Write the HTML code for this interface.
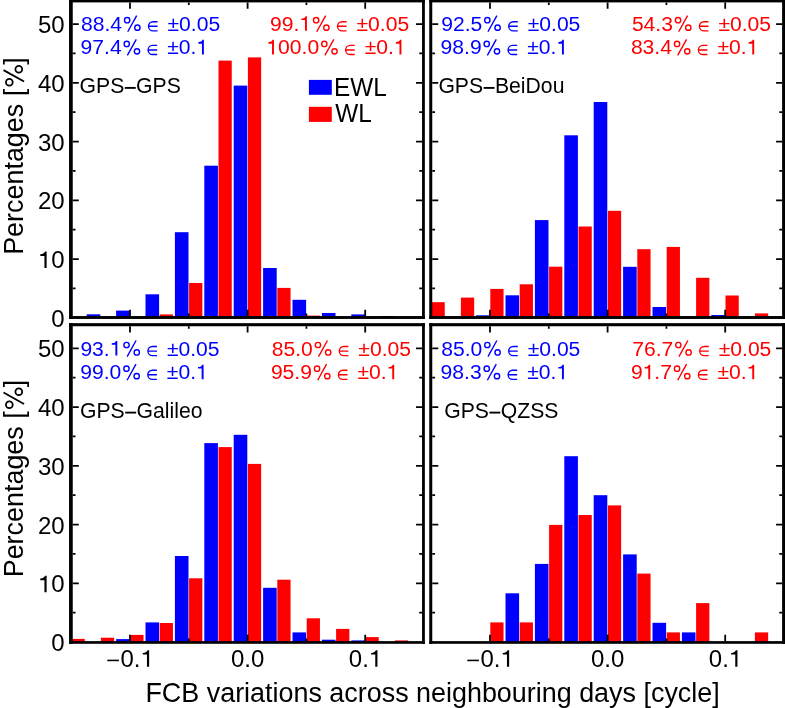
<!DOCTYPE html>
<html><head><meta charset="utf-8"><title>FCB variations</title><style>html,body{margin:0;padding:0;background:#fff;}svg{display:block;will-change:transform;}text{font-family:"Liberation Sans",sans-serif;white-space:pre;}</style></head><body>
<svg width="785" height="708" viewBox="0 0 785 708" font-family="Liberation Sans, sans-serif">
<rect width="785" height="708" fill="#fff"/>
<rect x="86.70" y="314.30" width="13.60" height="3.20" fill="#0000ff"/>
<rect x="116.10" y="310.60" width="13.60" height="6.90" fill="#0000ff"/>
<rect x="145.50" y="294.30" width="13.60" height="23.20" fill="#0000ff"/>
<rect x="159.70" y="314.40" width="13.25" height="3.10" fill="#ff0000"/>
<rect x="174.90" y="232.20" width="13.60" height="85.30" fill="#0000ff"/>
<rect x="189.10" y="283.00" width="13.25" height="34.50" fill="#ff0000"/>
<rect x="204.30" y="165.70" width="13.60" height="151.80" fill="#0000ff"/>
<rect x="218.50" y="60.60" width="13.25" height="256.90" fill="#ff0000"/>
<rect x="233.70" y="85.60" width="13.60" height="231.90" fill="#0000ff"/>
<rect x="247.90" y="57.40" width="13.25" height="260.10" fill="#ff0000"/>
<rect x="263.10" y="268.00" width="13.60" height="49.50" fill="#0000ff"/>
<rect x="277.30" y="287.90" width="13.25" height="29.60" fill="#ff0000"/>
<rect x="292.50" y="299.80" width="13.60" height="17.70" fill="#0000ff"/>
<rect x="306.70" y="315.60" width="13.25" height="1.90" fill="#ff0000"/>
<rect x="321.90" y="313.00" width="13.60" height="4.50" fill="#0000ff"/>
<rect x="351.30" y="314.40" width="13.60" height="3.10" fill="#0000ff"/>
<rect x="380.70" y="316.00" width="13.60" height="1.50" fill="#0000ff"/>
<path d="M72.75 288.47h2.8M422.05 288.47h-2.8M72.75 259.09h6.0M422.05 259.09h-6.0M72.75 229.71h2.8M422.05 229.71h-2.8M72.75 200.33h6.0M422.05 200.33h-6.0M72.75 170.95h2.8M422.05 170.95h-2.8M72.75 141.57h6.0M422.05 141.57h-6.0M72.75 112.19h2.8M422.05 112.19h-2.8M72.75 82.81h6.0M422.05 82.81h-6.0M72.75 53.43h2.8M422.05 53.43h-2.8M72.75 24.05h6.0M422.05 24.05h-6.0M130.00 2.40v6.3M130.00 316.05v-6.3M188.80 2.40v2.6M188.80 316.05v-2.6M247.60 2.40v6.3M247.60 316.05v-6.3M306.40 2.40v2.6M306.40 316.05v-2.6M365.20 2.40v6.3M365.20 316.05v-6.3" stroke="#000" stroke-width="1.8" fill="none"/>
<rect x="69.05" y="-1.30" width="3.70" height="320.25" fill="#000"/>
<rect x="422.05" y="-1.30" width="2.80" height="320.25" fill="#000"/>
<rect x="69.05" y="-1.30" width="355.80" height="3.70" fill="#000"/>
<rect x="69.05" y="316.05" width="355.80" height="2.90" fill="#000"/>
<rect x="431.50" y="302.20" width="13.25" height="15.30" fill="#ff0000"/>
<rect x="460.90" y="297.60" width="13.25" height="19.90" fill="#ff0000"/>
<rect x="476.10" y="315.30" width="13.60" height="2.20" fill="#0000ff"/>
<rect x="490.30" y="288.90" width="13.25" height="28.60" fill="#ff0000"/>
<rect x="505.50" y="295.30" width="13.60" height="22.20" fill="#0000ff"/>
<rect x="519.70" y="284.30" width="13.25" height="33.20" fill="#ff0000"/>
<rect x="534.90" y="220.10" width="13.60" height="97.40" fill="#0000ff"/>
<rect x="549.10" y="266.70" width="13.25" height="50.80" fill="#ff0000"/>
<rect x="564.30" y="135.30" width="13.60" height="182.20" fill="#0000ff"/>
<rect x="578.50" y="226.50" width="13.25" height="91.00" fill="#ff0000"/>
<rect x="593.70" y="102.00" width="13.60" height="215.50" fill="#0000ff"/>
<rect x="607.90" y="210.80" width="13.25" height="106.70" fill="#ff0000"/>
<rect x="623.10" y="266.80" width="13.60" height="50.70" fill="#0000ff"/>
<rect x="637.30" y="249.20" width="13.25" height="68.30" fill="#ff0000"/>
<rect x="652.50" y="307.00" width="13.60" height="10.50" fill="#0000ff"/>
<rect x="666.70" y="246.90" width="13.25" height="70.60" fill="#ff0000"/>
<rect x="696.10" y="277.80" width="13.25" height="39.70" fill="#ff0000"/>
<rect x="711.30" y="315.00" width="13.60" height="2.50" fill="#0000ff"/>
<rect x="725.50" y="295.50" width="13.25" height="22.00" fill="#ff0000"/>
<rect x="754.90" y="313.40" width="13.25" height="4.10" fill="#ff0000"/>
<path d="M432.25 288.47h2.8M782.10 288.47h-2.8M432.25 259.09h6.0M782.10 259.09h-6.0M432.25 229.71h2.8M782.10 229.71h-2.8M432.25 200.33h6.0M782.10 200.33h-6.0M432.25 170.95h2.8M782.10 170.95h-2.8M432.25 141.57h6.0M782.10 141.57h-6.0M432.25 112.19h2.8M782.10 112.19h-2.8M432.25 82.81h6.0M782.10 82.81h-6.0M432.25 53.43h2.8M782.10 53.43h-2.8M432.25 24.05h6.0M782.10 24.05h-6.0M490.00 2.40v6.3M490.00 316.05v-6.3M548.80 2.40v2.6M548.80 316.05v-2.6M607.60 2.40v6.3M607.60 316.05v-6.3M666.40 2.40v2.6M666.40 316.05v-2.6M725.20 2.40v6.3M725.20 316.05v-6.3" stroke="#000" stroke-width="1.8" fill="none"/>
<rect x="429.25" y="-1.30" width="3.00" height="320.25" fill="#000"/>
<rect x="782.10" y="-1.30" width="3.00" height="320.25" fill="#000"/>
<rect x="429.25" y="-1.30" width="355.85" height="3.70" fill="#000"/>
<rect x="429.25" y="316.05" width="355.85" height="2.90" fill="#000"/>
<rect x="71.50" y="638.90" width="13.25" height="3.55" fill="#ff0000"/>
<rect x="100.90" y="637.70" width="13.25" height="4.75" fill="#ff0000"/>
<rect x="116.10" y="639.10" width="13.60" height="3.35" fill="#0000ff"/>
<rect x="130.30" y="634.90" width="13.25" height="7.55" fill="#ff0000"/>
<rect x="145.50" y="622.40" width="13.60" height="20.05" fill="#0000ff"/>
<rect x="159.70" y="623.00" width="13.25" height="19.45" fill="#ff0000"/>
<rect x="174.90" y="556.00" width="13.60" height="86.45" fill="#0000ff"/>
<rect x="189.10" y="578.30" width="13.25" height="64.15" fill="#ff0000"/>
<rect x="204.30" y="443.10" width="13.60" height="199.35" fill="#0000ff"/>
<rect x="218.50" y="447.10" width="13.25" height="195.35" fill="#ff0000"/>
<rect x="233.70" y="434.80" width="13.60" height="207.65" fill="#0000ff"/>
<rect x="247.90" y="463.90" width="13.25" height="178.55" fill="#ff0000"/>
<rect x="263.10" y="587.80" width="13.60" height="54.65" fill="#0000ff"/>
<rect x="277.30" y="579.70" width="13.25" height="62.75" fill="#ff0000"/>
<rect x="292.50" y="632.40" width="13.60" height="10.05" fill="#0000ff"/>
<rect x="306.70" y="618.30" width="13.25" height="24.15" fill="#ff0000"/>
<rect x="321.90" y="639.70" width="13.60" height="2.75" fill="#0000ff"/>
<rect x="336.10" y="628.90" width="13.25" height="13.55" fill="#ff0000"/>
<rect x="351.30" y="640.40" width="13.60" height="2.05" fill="#0000ff"/>
<rect x="365.50" y="637.10" width="13.25" height="5.35" fill="#ff0000"/>
<rect x="394.90" y="640.40" width="13.25" height="2.05" fill="#ff0000"/>
<path d="M72.75 612.72h2.8M422.05 612.72h-2.8M72.75 583.34h6.0M422.05 583.34h-6.0M72.75 553.96h2.8M422.05 553.96h-2.8M72.75 524.58h6.0M422.05 524.58h-6.0M72.75 495.20h2.8M422.05 495.20h-2.8M72.75 465.82h6.0M422.05 465.82h-6.0M72.75 436.44h2.8M422.05 436.44h-2.8M72.75 407.06h6.0M422.05 407.06h-6.0M72.75 377.68h2.8M422.05 377.68h-2.8M72.75 348.30h6.0M422.05 348.30h-6.0M130.00 326.25v6.3M130.00 641.10v-6.3M188.80 326.25v2.6M188.80 641.10v-2.6M247.60 326.25v6.3M247.60 641.10v-6.3M306.40 326.25v2.6M306.40 641.10v-2.6M365.20 326.25v6.3M365.20 641.10v-6.3" stroke="#000" stroke-width="1.8" fill="none"/>
<rect x="69.05" y="323.15" width="3.70" height="320.65" fill="#000"/>
<rect x="422.05" y="323.15" width="2.80" height="320.65" fill="#000"/>
<rect x="69.05" y="323.15" width="355.80" height="3.10" fill="#000"/>
<rect x="69.05" y="641.10" width="355.80" height="2.70" fill="#000"/>
<rect x="490.30" y="622.40" width="13.25" height="20.05" fill="#ff0000"/>
<rect x="505.50" y="593.30" width="13.60" height="49.15" fill="#0000ff"/>
<rect x="519.70" y="622.40" width="13.25" height="20.05" fill="#ff0000"/>
<rect x="534.90" y="563.90" width="13.60" height="78.55" fill="#0000ff"/>
<rect x="549.10" y="524.90" width="13.25" height="117.55" fill="#ff0000"/>
<rect x="564.30" y="456.20" width="13.60" height="186.25" fill="#0000ff"/>
<rect x="578.50" y="515.00" width="13.25" height="127.45" fill="#ff0000"/>
<rect x="593.70" y="495.20" width="13.60" height="147.25" fill="#0000ff"/>
<rect x="607.90" y="505.40" width="13.25" height="137.05" fill="#ff0000"/>
<rect x="623.10" y="554.40" width="13.60" height="88.05" fill="#0000ff"/>
<rect x="637.30" y="573.60" width="13.25" height="68.85" fill="#ff0000"/>
<rect x="652.50" y="622.80" width="13.60" height="19.65" fill="#0000ff"/>
<rect x="666.70" y="632.40" width="13.25" height="10.05" fill="#ff0000"/>
<rect x="681.90" y="632.40" width="13.60" height="10.05" fill="#0000ff"/>
<rect x="696.10" y="603.10" width="13.25" height="39.35" fill="#ff0000"/>
<rect x="754.90" y="632.40" width="13.25" height="10.05" fill="#ff0000"/>
<path d="M432.25 612.72h2.8M782.10 612.72h-2.8M432.25 583.34h6.0M782.10 583.34h-6.0M432.25 553.96h2.8M782.10 553.96h-2.8M432.25 524.58h6.0M782.10 524.58h-6.0M432.25 495.20h2.8M782.10 495.20h-2.8M432.25 465.82h6.0M782.10 465.82h-6.0M432.25 436.44h2.8M782.10 436.44h-2.8M432.25 407.06h6.0M782.10 407.06h-6.0M432.25 377.68h2.8M782.10 377.68h-2.8M432.25 348.30h6.0M782.10 348.30h-6.0M490.00 326.25v6.3M490.00 641.10v-6.3M548.80 326.25v2.6M548.80 641.10v-2.6M607.60 326.25v6.3M607.60 641.10v-6.3M666.40 326.25v2.6M666.40 641.10v-2.6M725.20 326.25v6.3M725.20 641.10v-6.3" stroke="#000" stroke-width="1.8" fill="none"/>
<rect x="429.25" y="323.15" width="3.00" height="320.65" fill="#000"/>
<rect x="782.10" y="323.15" width="3.00" height="320.65" fill="#000"/>
<rect x="429.25" y="323.15" width="355.85" height="3.10" fill="#000"/>
<rect x="429.25" y="641.10" width="355.85" height="2.70" fill="#000"/>
<text x="81.00" y="30.70" font-size="21.1" fill="#0000ff">88.4</text>
<path d="M136.67 15.68L127.76 31.75" stroke="#0000ff" stroke-width="1.39" fill="none"/><circle cx="127.15" cy="20.21" r="2.66" stroke="#0000ff" stroke-width="1.39" fill="none"/><circle cx="137.39" cy="27.64" r="2.66" stroke="#0000ff" stroke-width="1.39" fill="none"/>
<path d="M157.58 21.70H153.03A4.55 4.55 0 0 0 153.03 30.80H157.58M148.48 26.25H157.58" stroke="#0000ff" stroke-width="1.35" fill="none"/>
<text x="167.53" y="30.70" font-size="21.1" fill="#0000ff">±0.05</text>
<text x="80.60" y="54.40" font-size="21.1" fill="#0000ff">97.4</text>
<path d="M136.27 39.38L127.36 55.45" stroke="#0000ff" stroke-width="1.39" fill="none"/><circle cx="126.75" cy="43.91" r="2.66" stroke="#0000ff" stroke-width="1.39" fill="none"/><circle cx="136.99" cy="51.34" r="2.66" stroke="#0000ff" stroke-width="1.39" fill="none"/>
<path d="M157.18 45.40H152.63A4.55 4.55 0 0 0 152.63 54.50H157.18M148.08 49.95H157.18" stroke="#0000ff" stroke-width="1.35" fill="none"/>
<text x="167.13" y="54.40" font-size="21.1" fill="#0000ff">±0. </text>
<path d="M201.96 54.40L203.88 54.40L203.88 39.84L202.46 39.84C202.04 41.21 200.84 42.06 198.31 42.20L198.31 43.68L201.96 43.68Z" fill="#0000ff"/>
<text x="270.00" y="30.70" font-size="21.1" fill="#ff0000">99. </text>
<path d="M304.99 30.70L306.91 30.70L306.91 16.14L305.49 16.14C305.07 17.51 303.87 18.36 301.34 18.50L301.34 19.98L304.99 19.98Z" fill="#ff0000"/>
<path d="M325.67 15.68L316.76 31.75" stroke="#ff0000" stroke-width="1.39" fill="none"/><circle cx="316.15" cy="20.21" r="2.66" stroke="#ff0000" stroke-width="1.39" fill="none"/><circle cx="326.39" cy="27.64" r="2.66" stroke="#ff0000" stroke-width="1.39" fill="none"/>
<path d="M346.58 21.70H342.03A4.55 4.55 0 0 0 342.03 30.80H346.58M337.48 26.25H346.58" stroke="#ff0000" stroke-width="1.35" fill="none"/>
<text x="356.53" y="30.70" font-size="21.1" fill="#ff0000">±0.05</text>
<text x="266.40" y="54.40" font-size="21.1" fill="#ff0000"> 00.0</text>
<path d="M272.05 54.40L273.97 54.40L273.97 39.84L272.56 39.84C272.14 41.21 270.94 42.06 268.40 42.20L268.40 43.68L272.05 43.68Z" fill="#ff0000"/>
<path d="M333.80 39.38L324.90 55.45" stroke="#ff0000" stroke-width="1.39" fill="none"/><circle cx="324.29" cy="43.91" r="2.66" stroke="#ff0000" stroke-width="1.39" fill="none"/><circle cx="334.52" cy="51.34" r="2.66" stroke="#ff0000" stroke-width="1.39" fill="none"/>
<path d="M354.71 45.40H350.16A4.55 4.55 0 0 0 350.16 54.50H354.71M345.61 49.95H354.71" stroke="#ff0000" stroke-width="1.35" fill="none"/>
<text x="364.66" y="54.40" font-size="21.1" fill="#ff0000">±0. </text>
<path d="M399.49 54.40L401.41 54.40L401.41 39.84L400.00 39.84C399.58 41.21 398.37 42.06 395.84 42.20L395.84 43.68L399.49 43.68Z" fill="#ff0000"/>
<text x="79.60" y="93.20" font-size="21.2">GPS GPS</text>
<rect x="124.81" y="86.97" width="10.92" height="1.87" fill="#000"/>
<text x="441.20" y="30.70" font-size="21.1" fill="#0000ff">92.5</text>
<path d="M496.87 15.68L487.96 31.75" stroke="#0000ff" stroke-width="1.39" fill="none"/><circle cx="487.35" cy="20.21" r="2.66" stroke="#0000ff" stroke-width="1.39" fill="none"/><circle cx="497.59" cy="27.64" r="2.66" stroke="#0000ff" stroke-width="1.39" fill="none"/>
<path d="M517.78 21.70H513.23A4.55 4.55 0 0 0 513.23 30.80H517.78M508.68 26.25H517.78" stroke="#0000ff" stroke-width="1.35" fill="none"/>
<text x="527.73" y="30.70" font-size="21.1" fill="#0000ff">±0.05</text>
<text x="440.60" y="54.40" font-size="21.1" fill="#0000ff">98.9</text>
<path d="M496.27 39.38L487.36 55.45" stroke="#0000ff" stroke-width="1.39" fill="none"/><circle cx="486.75" cy="43.91" r="2.66" stroke="#0000ff" stroke-width="1.39" fill="none"/><circle cx="496.99" cy="51.34" r="2.66" stroke="#0000ff" stroke-width="1.39" fill="none"/>
<path d="M517.18 45.40H512.63A4.55 4.55 0 0 0 512.63 54.50H517.18M508.08 49.95H517.18" stroke="#0000ff" stroke-width="1.35" fill="none"/>
<text x="527.13" y="54.40" font-size="21.1" fill="#0000ff">±0. </text>
<path d="M561.96 54.40L563.88 54.40L563.88 39.84L562.46 39.84C562.04 41.21 560.84 42.06 558.31 42.20L558.31 43.68L561.96 43.68Z" fill="#0000ff"/>
<text x="631.90" y="30.70" font-size="21.1" fill="#ff0000">54.3</text>
<path d="M687.57 15.68L678.66 31.75" stroke="#ff0000" stroke-width="1.39" fill="none"/><circle cx="678.05" cy="20.21" r="2.66" stroke="#ff0000" stroke-width="1.39" fill="none"/><circle cx="688.29" cy="27.64" r="2.66" stroke="#ff0000" stroke-width="1.39" fill="none"/>
<path d="M708.48 21.70H703.93A4.55 4.55 0 0 0 703.93 30.80H708.48M699.38 26.25H708.48" stroke="#ff0000" stroke-width="1.35" fill="none"/>
<text x="718.43" y="30.70" font-size="21.1" fill="#ff0000">±0.05</text>
<text x="630.90" y="54.40" font-size="21.1" fill="#ff0000">83.4</text>
<path d="M686.57 39.38L677.66 55.45" stroke="#ff0000" stroke-width="1.39" fill="none"/><circle cx="677.05" cy="43.91" r="2.66" stroke="#ff0000" stroke-width="1.39" fill="none"/><circle cx="687.29" cy="51.34" r="2.66" stroke="#ff0000" stroke-width="1.39" fill="none"/>
<path d="M707.48 45.40H702.93A4.55 4.55 0 0 0 702.93 54.50H707.48M698.38 49.95H707.48" stroke="#ff0000" stroke-width="1.35" fill="none"/>
<text x="717.43" y="54.40" font-size="21.1" fill="#ff0000">±0. </text>
<path d="M752.26 54.40L754.18 54.40L754.18 39.84L752.76 39.84C752.34 41.21 751.14 42.06 748.61 42.20L748.61 43.68L752.26 43.68Z" fill="#ff0000"/>
<text x="438.40" y="93.20" font-size="21.2">GPS BeiDou</text>
<rect x="483.61" y="86.97" width="10.92" height="1.87" fill="#000"/>
<text x="80.40" y="355.50" font-size="21.1" fill="#0000ff">93. </text>
<path d="M115.39 355.50L117.31 355.50L117.31 340.94L115.89 340.94C115.47 342.31 114.27 343.16 111.74 343.30L111.74 344.78L115.39 344.78Z" fill="#0000ff"/>
<path d="M136.07 340.48L127.16 356.56" stroke="#0000ff" stroke-width="1.39" fill="none"/><circle cx="126.55" cy="345.01" r="2.66" stroke="#0000ff" stroke-width="1.39" fill="none"/><circle cx="136.79" cy="352.44" r="2.66" stroke="#0000ff" stroke-width="1.39" fill="none"/>
<path d="M156.98 346.50H152.43A4.55 4.55 0 0 0 152.43 355.60H156.98M147.88 351.05H156.98" stroke="#0000ff" stroke-width="1.35" fill="none"/>
<text x="166.93" y="355.50" font-size="21.1" fill="#0000ff">±0.05</text>
<text x="80.30" y="379.20" font-size="21.1" fill="#0000ff">99.0</text>
<path d="M135.97 364.18L127.06 380.25" stroke="#0000ff" stroke-width="1.39" fill="none"/><circle cx="126.45" cy="368.71" r="2.66" stroke="#0000ff" stroke-width="1.39" fill="none"/><circle cx="136.69" cy="376.14" r="2.66" stroke="#0000ff" stroke-width="1.39" fill="none"/>
<path d="M156.88 370.20H152.33A4.55 4.55 0 0 0 152.33 379.30H156.88M147.78 374.75H156.88" stroke="#0000ff" stroke-width="1.35" fill="none"/>
<text x="166.83" y="379.20" font-size="21.1" fill="#0000ff">±0. </text>
<path d="M201.66 379.20L203.58 379.20L203.58 364.64L202.16 364.64C201.74 366.01 200.54 366.86 198.01 367.00L198.01 368.48L201.66 368.48Z" fill="#0000ff"/>
<text x="271.80" y="355.50" font-size="21.1" fill="#ff0000">85.0</text>
<path d="M327.47 340.48L318.56 356.56" stroke="#ff0000" stroke-width="1.39" fill="none"/><circle cx="317.95" cy="345.01" r="2.66" stroke="#ff0000" stroke-width="1.39" fill="none"/><circle cx="328.19" cy="352.44" r="2.66" stroke="#ff0000" stroke-width="1.39" fill="none"/>
<path d="M348.38 346.50H343.83A4.55 4.55 0 0 0 343.83 355.60H348.38M339.28 351.05H348.38" stroke="#ff0000" stroke-width="1.35" fill="none"/>
<text x="358.33" y="355.50" font-size="21.1" fill="#ff0000">±0.05</text>
<text x="270.90" y="379.20" font-size="21.1" fill="#ff0000">95.9</text>
<path d="M326.57 364.18L317.66 380.25" stroke="#ff0000" stroke-width="1.39" fill="none"/><circle cx="317.05" cy="368.71" r="2.66" stroke="#ff0000" stroke-width="1.39" fill="none"/><circle cx="327.29" cy="376.14" r="2.66" stroke="#ff0000" stroke-width="1.39" fill="none"/>
<path d="M347.48 370.20H342.93A4.55 4.55 0 0 0 342.93 379.30H347.48M338.38 374.75H347.48" stroke="#ff0000" stroke-width="1.35" fill="none"/>
<text x="357.43" y="379.20" font-size="21.1" fill="#ff0000">±0. </text>
<path d="M392.26 379.20L394.18 379.20L394.18 364.64L392.76 364.64C392.34 366.01 391.14 366.86 388.61 367.00L388.61 368.48L392.26 368.48Z" fill="#ff0000"/>
<text x="80.00" y="417.90" font-size="21.2">GPS Galileo</text>
<rect x="125.21" y="411.67" width="10.92" height="1.87" fill="#000"/>
<text x="441.20" y="355.50" font-size="21.1" fill="#0000ff">85.0</text>
<path d="M496.87 340.48L487.96 356.56" stroke="#0000ff" stroke-width="1.39" fill="none"/><circle cx="487.35" cy="345.01" r="2.66" stroke="#0000ff" stroke-width="1.39" fill="none"/><circle cx="497.59" cy="352.44" r="2.66" stroke="#0000ff" stroke-width="1.39" fill="none"/>
<path d="M517.78 346.50H513.23A4.55 4.55 0 0 0 513.23 355.60H517.78M508.68 351.05H517.78" stroke="#0000ff" stroke-width="1.35" fill="none"/>
<text x="527.73" y="355.50" font-size="21.1" fill="#0000ff">±0.05</text>
<text x="440.60" y="379.20" font-size="21.1" fill="#0000ff">98.3</text>
<path d="M496.27 364.18L487.36 380.25" stroke="#0000ff" stroke-width="1.39" fill="none"/><circle cx="486.75" cy="368.71" r="2.66" stroke="#0000ff" stroke-width="1.39" fill="none"/><circle cx="496.99" cy="376.14" r="2.66" stroke="#0000ff" stroke-width="1.39" fill="none"/>
<path d="M517.18 370.20H512.63A4.55 4.55 0 0 0 512.63 379.30H517.18M508.08 374.75H517.18" stroke="#0000ff" stroke-width="1.35" fill="none"/>
<text x="527.13" y="379.20" font-size="21.1" fill="#0000ff">±0. </text>
<path d="M561.96 379.20L563.88 379.20L563.88 364.64L562.46 364.64C562.04 366.01 560.84 366.86 558.31 367.00L558.31 368.48L561.96 368.48Z" fill="#0000ff"/>
<text x="632.20" y="355.50" font-size="21.1" fill="#ff0000">76.7</text>
<path d="M687.87 340.48L678.96 356.56" stroke="#ff0000" stroke-width="1.39" fill="none"/><circle cx="678.35" cy="345.01" r="2.66" stroke="#ff0000" stroke-width="1.39" fill="none"/><circle cx="688.59" cy="352.44" r="2.66" stroke="#ff0000" stroke-width="1.39" fill="none"/>
<path d="M708.78 346.50H704.23A4.55 4.55 0 0 0 704.23 355.60H708.78M699.68 351.05H708.78" stroke="#ff0000" stroke-width="1.35" fill="none"/>
<text x="718.73" y="355.50" font-size="21.1" fill="#ff0000">±0.05</text>
<text x="630.90" y="379.20" font-size="21.1" fill="#ff0000">9 .7</text>
<path d="M648.29 379.20L650.21 379.20L650.21 364.64L648.80 364.64C648.37 366.01 647.17 366.86 644.64 367.00L644.64 368.48L648.29 368.48Z" fill="#ff0000"/>
<path d="M686.57 364.18L677.66 380.25" stroke="#ff0000" stroke-width="1.39" fill="none"/><circle cx="677.05" cy="368.71" r="2.66" stroke="#ff0000" stroke-width="1.39" fill="none"/><circle cx="687.29" cy="376.14" r="2.66" stroke="#ff0000" stroke-width="1.39" fill="none"/>
<path d="M707.48 370.20H702.93A4.55 4.55 0 0 0 702.93 379.30H707.48M698.38 374.75H707.48" stroke="#ff0000" stroke-width="1.35" fill="none"/>
<text x="717.43" y="379.20" font-size="21.1" fill="#ff0000">±0. </text>
<path d="M752.26 379.20L754.18 379.20L754.18 364.64L752.76 364.64C752.34 366.01 751.14 366.86 748.61 367.00L748.61 368.48L752.26 368.48Z" fill="#ff0000"/>
<text x="444.20" y="417.90" font-size="21.2">GPS QZSS</text>
<rect x="489.41" y="411.67" width="10.92" height="1.87" fill="#000"/>
<rect x="308.9" y="79.9" width="22.9" height="14.9" fill="#0000ff"/>
<rect x="308.9" y="106.8" width="22.9" height="15.1" fill="#ff0000"/>
<text transform="translate(334.0 95.6) scale(1 1.04)" font-size="24.35">EWL</text>
<text transform="translate(335.2 122.4) scale(1 1.04)" font-size="24.35">WL</text>
<text x="51.35" y="326.85" font-size="24.0">0</text>
<text x="38.00" y="268.09" font-size="24.0"> 0</text>
<path d="M44.44 268.09L46.62 268.09L46.62 251.53L45.01 251.53C44.53 253.09 43.16 254.05 40.28 254.22L40.28 255.90L44.44 255.90Z" fill="#000"/>
<text x="38.00" y="209.33" font-size="24.0">20</text>
<text x="38.00" y="150.57" font-size="24.0">30</text>
<text x="38.00" y="91.81" font-size="24.0">40</text>
<text x="38.00" y="33.05" font-size="24.0">50</text>
<text x="51.35" y="651.10" font-size="24.0">0</text>
<text x="38.00" y="592.34" font-size="24.0"> 0</text>
<path d="M44.44 592.34L46.62 592.34L46.62 575.78L45.01 575.78C44.53 577.34 43.16 578.30 40.28 578.47L40.28 580.15L44.44 580.15Z" fill="#000"/>
<text x="38.00" y="533.58" font-size="24.0">20</text>
<text x="38.00" y="474.82" font-size="24.0">30</text>
<text x="38.00" y="416.06" font-size="24.0">40</text>
<text x="38.00" y="357.30" font-size="24.0">50</text>
<rect x="107.30" y="659.65" width="11.6" height="1.55" fill="#000"/>
<text x="120.50" y="666.80" font-size="24.0">0. </text>
<path d="M146.95 666.80L149.13 666.80L149.13 650.24L147.52 650.24C147.04 651.80 145.68 652.76 142.80 652.93L142.80 654.61L146.95 654.61Z" fill="#000"/>
<text x="230.92" y="666.80" font-size="24.0">0.0</text>
<text x="348.82" y="666.80" font-size="24.0">0. </text>
<path d="M375.27 666.80L377.45 666.80L377.45 650.24L375.84 650.24C375.36 651.80 373.99 652.76 371.11 652.93L371.11 654.61L375.27 654.61Z" fill="#000"/>
<rect x="467.30" y="659.65" width="11.6" height="1.55" fill="#000"/>
<text x="480.50" y="666.80" font-size="24.0">0. </text>
<path d="M506.95 666.80L509.13 666.80L509.13 650.24L507.52 650.24C507.04 651.80 505.68 652.76 502.80 652.93L502.80 654.61L506.95 654.61Z" fill="#000"/>
<text x="590.92" y="666.80" font-size="24.0">0.0</text>
<text x="708.82" y="666.80" font-size="24.0">0. </text>
<path d="M735.27 666.80L737.45 666.80L737.45 650.24L735.84 650.24C735.36 651.80 733.99 652.76 731.11 652.93L731.11 654.61L735.27 654.61Z" fill="#000"/>
<g transform="translate(22.7 156.1) rotate(-90)">
<text x="-98.76" y="0" font-size="26.92">Percentages [</text>
<path d="M85.97 -19.17L74.61 1.35" stroke="#000" stroke-width="1.78" fill="none"/><circle cx="73.83" cy="-13.38" r="3.39" stroke="#000" stroke-width="1.78" fill="none"/><circle cx="86.89" cy="-3.90" r="3.39" stroke="#000" stroke-width="1.78" fill="none"/>
<text x="91.28" y="0" font-size="26.92">]</text>
</g>
<g transform="translate(22.7 478.55) rotate(-90)">
<text x="-98.76" y="0" font-size="26.92">Percentages [</text>
<path d="M85.97 -19.17L74.61 1.35" stroke="#000" stroke-width="1.78" fill="none"/><circle cx="73.83" cy="-13.38" r="3.39" stroke="#000" stroke-width="1.78" fill="none"/><circle cx="86.89" cy="-3.90" r="3.39" stroke="#000" stroke-width="1.78" fill="none"/>
<text x="91.28" y="0" font-size="26.92">]</text>
</g>
<text x="145.45" y="701.9" font-size="26.92">FCB variations across neighbouring days [cycle]</text>
</svg>
</body></html>
